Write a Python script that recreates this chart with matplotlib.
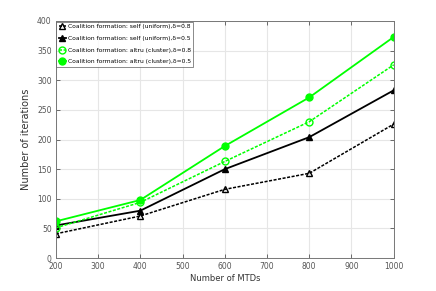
import numpy as np
import matplotlib
matplotlib.use('Agg')
import matplotlib.pyplot as plt

# данные
mtds = [200, 400, 600, 800, 1000]
self_08 = [41, 71, 116, 143, 226]
self_05 = [55, 80, 150, 204, 283]
altru_08 = [51, 94, 163, 230, 326]
altru_05 = [62, 98, 189, 271, 373]

labels = ['Coalition formation: self (uniform),δ=0.8',
          'Coalition formation: self (uniform),δ=0.5',
          'Coalition formation: altru (cluster),δ=0.8',
          'Coalition formation: altru (cluster),δ=0.5']

plt.rcParams['font.family'] = ['Liberation Sans Narrow', 'DejaVu Sans']

fig = plt.figure(figsize=(4.36, 2.91), dpi=100)
ax = fig.add_axes([0.128, 0.113, 0.775, 0.815])

green = '#00ff00'
ax.plot(mtds, self_08, color='black', ls=(0, (2, 1)), lw=1.1, marker='^',
        mfc='none', mec='black', ms=5, label=labels[0])
ax.plot(mtds, self_05, color='black', ls='-', lw=1.3, marker='^',
        mfc='black', mec='black', ms=5, label=labels[1])
ax.plot(mtds, altru_08, color=green, ls=(0, (2, 1)), lw=1.1, marker='o',
        mfc='none', mec=green, ms=5, label=labels[2])
ax.plot(mtds, altru_05, color=green, ls='-', lw=1.3, marker='o',
        mfc=green, mec=green, ms=5, label=labels[3])

ax.set_xlim(200, 1000)
ax.set_ylim(0, 400)
ax.set_xticks(np.arange(200, 1001, 100))
ax.set_yticks(np.arange(0, 401, 50))
ax.grid(True, color='#e6e6e6', lw=0.8)
ax.set_axisbelow(True)
ax.tick_params(direction='in', length=3, width=0.6, colors='#555555',
               labelsize=5.5, top=True, right=True, pad=3)
for s in ax.spines.values():
    s.set_color('#777777')
    s.set_linewidth(0.7)

ax.set_xlabel('Number of MTDs', fontsize=6, color='#333333', labelpad=2)
ax.set_ylabel('Number of iterations', fontsize=7, color='#333333', labelpad=4)

leg = ax.legend(loc='upper left', fontsize=4.3, frameon=True, fancybox=False,
                edgecolor='#555555', borderpad=0.4, labelspacing=1.1,
                handlelength=1.2, handletextpad=0.3, borderaxespad=0.1)
leg.get_frame().set_linewidth(0.6)

plt.savefig('out.png', dpi=100)
plt.close()
